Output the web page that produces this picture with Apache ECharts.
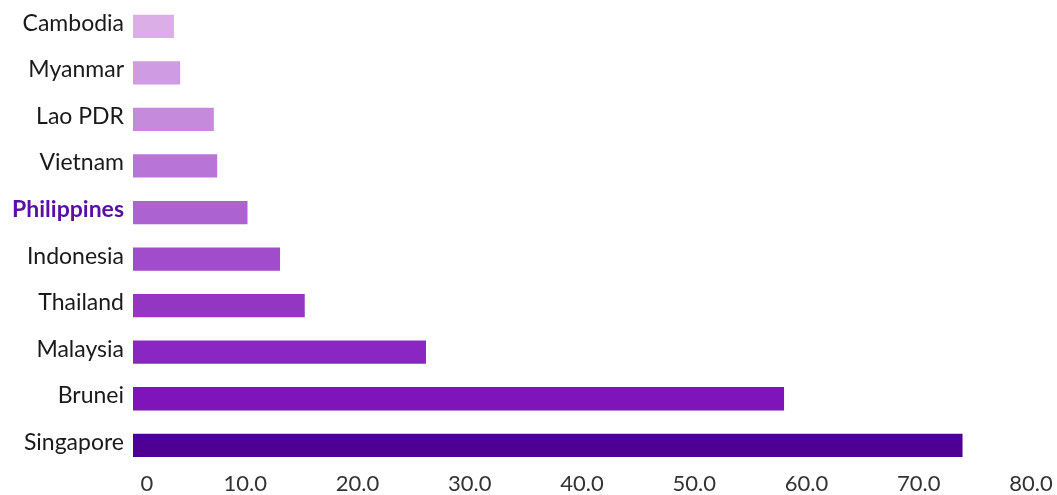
<!DOCTYPE html>
<html>
<head>
<meta charset="utf-8">
<script src="https://cdn.jsdelivr.net/npm/echarts@6/dist/echarts.min.js"></script>
<style>
html,body{margin:0;padding:0;background:#fff;}
#c{width:1057px;height:495px;}
</style>
</head>
<body>
<div id="c"></div>
<script>
// bottom to top
const categories = ['Singapore','Brunei','Malaysia','Thailand','Indonesia','Philippines','Vietnam','Lao PDR','Myanmar','Cambodia'];
const values = [73.9, 58.0, 26.1, 15.3, 13.1, 10.2, 7.5, 7.2, 4.2, 3.65];
const barColors = ['#4f0094','#7f14bb','#8a26c1','#9337c3','#a04ccb','#ad62d1','#b875d7','#c58adc','#cf9be3','#dcaee8'];
const highlight = 'Philippines';
const xTicks = [0,10,20,30,40,50,60,70,80];

const chart = echarts.init(document.getElementById('c'));
const FONT = 'Lato, "Open Sans", sans-serif';
chart.setOption({
  animation: false,
  grid: {left: 133, right: 26, top: 3, bottom: 26.4, containLabel: false},
  xAxis: {
    type: 'value', min: xTicks[0], max: xTicks[xTicks.length-1], interval: 10,
    axisLine: {show: false}, axisTick: {show: false}, splitLine: {show: false},
    axisLabel: {
      margin: 4, fontSize: 22, color: '#333333', fontFamily: FONT,
      formatter: v => v === 0 ? '{z|0}' : v.toFixed(1),
      rich: {z: {fontSize: 22, color: '#333333', fontFamily: FONT, padding: [0,0,0,28]}}
    }
  },
  yAxis: {
    type: 'category', data: categories,
    axisLine: {show: false}, axisTick: {show: false}, splitLine: {show: false},
    axisLabel: {
      margin: 9, fontSize: 23, color: '#1a1a1a', fontFamily: FONT,
      formatter: v => v === highlight ? '{h|' + v + '}' : '{n|' + v + '}',
      rich: {
        n: {fontSize: 23, color: '#1a1a1a', fontFamily: FONT, padding: [0,0,6,0]},
        h: {fontSize: 23, color: '#5b0ea3', fontWeight: 'bold', fontFamily: FONT, padding: [0,0,6,0]}
      }
    }
  },
  series: [{
    type: 'bar',
    data: values.map((v,i) => ({value: v, itemStyle: {color: barColors[i]}})),
    barCategoryGap: '50%'
  }]
});
</script>
</body>
</html>
